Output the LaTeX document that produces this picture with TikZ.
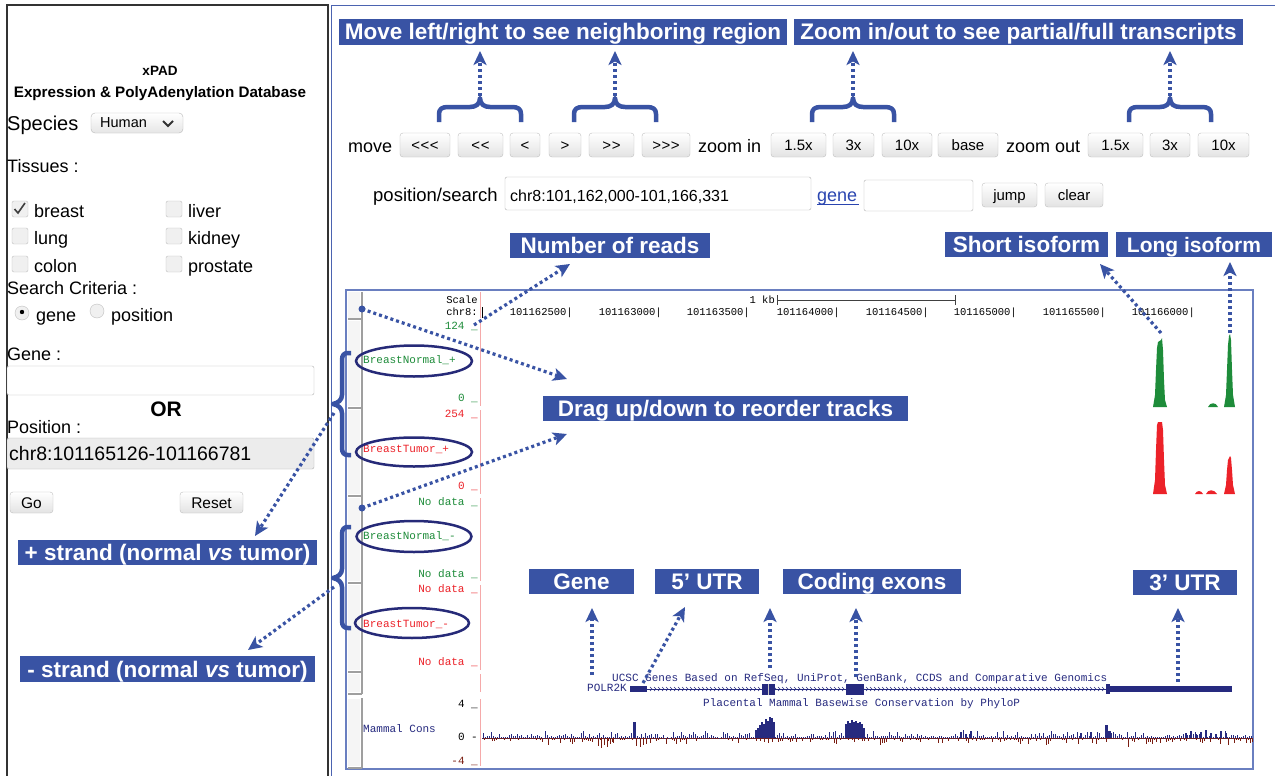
\documentclass[tikz,border=0pt]{standalone}
\usepackage{fontspec}
\setmainfont{Liberation Sans}
\newfontfamily\monof{Liberation Mono}
\usetikzlibrary{arrows.meta}
\newcommand{\fsz}[1]{\fontsize{#1}{#1}\selectfont}
\newcommand{\lt}{<\kern0.5pt}
\newcommand{\gt}{>\kern0.5pt}
\definecolor{lblue}{HTML}{3953A4}
\definecolor{pborder}{HTML}{4B63B0}
\definecolor{tborder}{HTML}{6A7FC0}
\definecolor{enavy}{HTML}{262A78}
\definecolor{gnavy}{HTML}{262A7F}
\definecolor{tgreen}{HTML}{1E8C3A}
\definecolor{tred}{HTML}{EC2229}
\definecolor{cbrown}{HTML}{7A1E12}
\definecolor{pinkl}{HTML}{F5A9A9}
\definecolor{linkb}{HTML}{2A45B0}
\begin{document}
\begin{tikzpicture}[x=1pt,y=-1pt,
  lbl/.style={fill=lblue,text=white,font=\bfseries\fsz{22.5},inner sep=0pt,minimum height=25pt,text height=16pt,text depth=0pt},
  btn/.style={draw=gray!50,rounded corners=3pt,top color=white,bottom color=gray!22,inner sep=0pt,minimum height=24pt,font=\fsz{15},text height=11pt,text depth=0pt},
  ui/.style={inner sep=0pt,anchor=base west,font=\fsz{18}},
  trk/.style={inner sep=0pt,font=\monof\fsz{11},text height=7pt,text depth=2pt},
  darr/.style={draw=lblue,line width=3.2pt,dash pattern=on 3pt off 3pt,-{Stealth[length=14pt,width=13pt,inset=3.5pt]}},
  brc/.style={draw=lblue,line width=4.5pt,line join=round},
  ell/.style={draw=enavy,line width=2.5pt},
  fieldbox/.style={draw=gray!60,rounded corners=2pt},
  cbox/.style={draw=gray!50,fill=gray!12,rounded corners=2pt}]
\useasboundingbox (0,0) rectangle (1275,776);
\fill[white] (0,0) rectangle (1275,776);

% ---------- left panel ----------
\draw[black!80,line width=1.5pt] (7,776) -- (7,5) -- (328,5) -- (328,776);
\node[inner sep=0pt,anchor=base,font=\bfseries\fsz{13.5}] (title) at (160,75) {xPAD};
\node[inner sep=0pt,anchor=base,font=\bfseries\fsz{15.2}] (subtitle) at (160,98) {Expression \& PolyAdenylation Database};
\node[ui,font=\fsz{20}] (species) at (7,130) {Species};
\draw[draw=gray!55,top color=white,bottom color=gray!20,rounded corners=4pt] (91,113) rectangle (183,133);
\node[ui,font=\fsz{14.5}] (human) at (100,128) {Human};
\draw[black!80,line width=1.8pt] (163,121) -- (168,126) -- (173,121);
\node[ui] (tissues) at (7,172) {Tissues :};
\draw[cbox] (12,201) rectangle (28,217);
\draw[black!75,line width=1.6pt] (14.5,209) -- (18,213) -- (25,203);
\draw[cbox] (12,228) rectangle (28,244);
\draw[cbox] (12,256) rectangle (28,272);
\draw[cbox] (166,201) rectangle (182,217);
\draw[cbox] (166,228) rectangle (182,244);
\draw[cbox] (166,256) rectangle (182,272);
\node[ui] (breast) at (34,217) {breast};
\node[ui] (lung) at (34,244) {lung};
\node[ui] (colon) at (34,272) {colon};
\node[ui] (liver) at (188,217) {liver};
\node[ui] (kidney) at (188,244) {kidney};
\node[ui] (prostate) at (188,272) {prostate};
\node[ui] (search) at (7,294) {Search Criteria :};
\draw[cbox] (22,313) circle (7);
\fill[black] (22,312) circle (2.2);
\draw[cbox] (97,311) circle (7);
\node[ui] (rgene) at (36,321) {gene};
\node[ui] (rpos) at (111,321) {position};
\node[ui] (genelab) at (7,360) {Gene :};
\draw[fieldbox,fill=white] (7,366) rectangle (314,395);
\node[inner sep=0pt,anchor=base,font=\bfseries\fsz{21}] (or) at (166,416) {OR};
\node[ui] (poslab) at (7,433) {Position :};
\draw[fieldbox,fill=gray!15] (7,438) rectangle (314,469);
\node[ui,font=\fsz{19.5}] (posval) at (9,460) {chr8:101165126-101166781};
\node[btn,minimum width=43pt,minimum height=21pt,font=\fsz{15.5}] (go) at (31.5,502.5) {Go};
\node[btn,minimum width=63pt,minimum height=21pt,font=\fsz{15.5}] (reset) at (211.5,502.5) {Reset};
\node[lbl,minimum width=299pt] (plus) at (167.5,552.5) {+ strand (normal \textit{vs} tumor)};
\node[lbl,minimum width=295pt,minimum height=26pt] (minus) at (167.5,669) {- strand (normal \textit{vs} tumor)};

% ---------- right panel ----------
\draw[pborder,line width=1.5pt] (331.5,776) -- (331.5,5.5) -- (1275,5.5);
\node[lbl,minimum width=448pt,minimum height=26pt] (movelbl) at (563,32) {Move left/right to see neighboring region};
\node[lbl,minimum width=449pt,minimum height=26pt] (zoomlbl) at (1018.5,32) {Zoom in/out to see partial/full transcripts};

\node[ui] (movetxt) at (348,152) {move};
\node[btn,minimum width=50pt] (b1) at (425,145) {\lt\lt<};
\node[btn,minimum width=45pt] (b2) at (480.5,145) {\lt<};
\node[btn,minimum width=30pt] (b3) at (525,145) {<};
\node[btn,minimum width=32pt] (b4) at (565,145) {>};
\node[btn,minimum width=45pt] (b5) at (611.5,145) {\gt>};
\node[btn,minimum width=48pt] (b6) at (666,145) {\gt\gt>};
\node[ui] (zin) at (698,152) {zoom in};
\node[btn,minimum width=55pt] (z1) at (798.5,145) {1.5x};
\node[btn,minimum width=41pt] (z2) at (853.5,145) {3x};
\node[btn,minimum width=50pt] (z3) at (907,145) {10x};
\node[btn,minimum width=60pt] (z4) at (968,145) {base};
\node[ui] (zout) at (1006,152) {zoom out};
\node[btn,minimum width=55pt] (o1) at (1115.5,145) {1.5x};
\node[btn,minimum width=40pt] (o2) at (1170,145) {3x};
\node[btn,minimum width=51pt] (o3) at (1223.5,145) {10x};

\node[ui,font=\fsz{18.5}] (posearch) at (373,201) {position/search};
\draw[fieldbox,fill=white] (505,177) rectangle (811,210);
\node[ui,font=\fsz{16}] (posfield) at (510,201) {chr8:101,162,000-101,166,331};
\node[ui,text=linkb] (genelink) at (817,201) {gene};
\draw[linkb,line width=1pt] (817,204) -- (859,204);
\draw[fieldbox,fill=white] (864,180) rectangle (973,211);
\node[btn,minimum width=55pt] (jump) at (1009.5,195) {jump};
\node[btn,minimum width=58pt] (clear) at (1074,195) {clear};

% top braces and arrows
\foreach \c/\n in {480/1,615/2,853/3,1170/4}{
  \draw[brc] ({\c-41},122) -- ({\c-41},114) .. controls ({\c-41},109) and ({\c-38},107) .. ({\c-32},107) -- ({\c-10},107) .. controls ({\c-4},107) and (\c,104) .. (\c,98) .. controls (\c,104) and ({\c+4},107) .. ({\c+10},107) -- ({\c+32},107) .. controls ({\c+38},107) and ({\c+41},109) .. ({\c+41},114) -- ({\c+41},122);
  \coordinate (bt\n) at (\c,96);
  \coordinate (lt\n) at (\c,51);
}
\draw[darr] (bt1) -- (lt1);
\draw[darr] (bt2) -- (lt2);
\draw[darr] (bt3) -- (lt3);
\draw[darr] (bt4) -- (lt4);

% labels middle
\node[lbl,minimum width=200pt] (nreads) at (610,245.5) {Number of reads};
\node[lbl,minimum width=163pt] (short) at (1026.5,244.5) {Short isoform};
\node[lbl,minimum width=156pt,font=\bfseries\fsz{21}] (long) at (1194,244.5) {Long isoform};

% ---------- track area ----------
\draw[tborder,line width=1.2pt] (346,290) rectangle (1253,769);
\foreach \a/\b in {292/318,321/406,410/494,498/581,585/670,674/692,699/766}{
  \fill[gray!8] (348,\a) rectangle (360,\b);
  \draw[pinkl,line width=1pt] (480,\a) -- (480,\b);
}
\draw[gray!75,line width=2pt] (362,292) -- (362,694);
\draw[gray!75,line width=2pt] (362,698) -- (362,768);
\foreach \yy in {319,408,496,583,672,694,768}{
  \draw[gray!75,line width=1.5pt] (348,\yy) -- (362,\yy);
}

% scale
\node[trk,anchor=east,font=\monof\fsz{10.5}] (scale) at (478,301) {Scale};
\node[trk,anchor=east,font=\monof\fsz{10.5}] (chr) at (478,313) {chr8:};
\draw[black,line width=0.8pt] (482,307) -- (482,318);
\node[trk,anchor=east,font=\monof\fsz{10.5}] (kb) at (775,301) {1 kb};
\draw[black!75,line width=1pt] (777,300) -- (955,300);
\draw[black!75,line width=1pt] (777,295) -- (777,305);
\draw[black!75,line width=1pt] (955,295) -- (955,305);
\foreach \bx/\lab in {570/101162500,659/101163000,747/101163500,837/101164000,926/101164500,1014/101165000,1103/101165500,1192/101166000}{
  \node[trk,anchor=east,font=\monof\fsz{10.5}] (p\lab) at ({\bx+3},313) {\lab|};
}

% track values
\node[trk,anchor=east,text=tgreen] (v124) at (478,327) {124 \_};
\node[trk,anchor=east,text=tgreen] (v0g) at (478,399) {0 \_};
\node[trk,anchor=east,text=tred] (v254) at (478,415) {254 \_};
\node[trk,anchor=east,text=tred] (v0r) at (478,487) {0 \_};
\node[trk,anchor=east,text=tgreen] (nd1) at (478,503) {No data \_};
\node[trk,anchor=east,text=tgreen] (nd2) at (478,575) {No data \_};
\node[trk,anchor=east,text=tred] (nd3) at (478,590) {No data \_};
\node[trk,anchor=east,text=tred] (nd4) at (478,663) {No data \_};
\node[trk,anchor=east] (c4) at (478,705) {4 \_};
\node[trk,anchor=east] (c0) at (478,738) {0 -};
\node[trk,anchor=east,text=cbrown] (cm4) at (478,762) {-4 \_};
\node[trk,anchor=west,text=gnavy] (mcons) at (363,730) {Mammal Cons};

% track names + ellipses
\node[trk,anchor=west,text=tgreen] (bnp) at (363,361) {BreastNormal\_+};
\node[trk,anchor=west,text=tred] (btp) at (363,450) {BreastTumor\_+};
\node[trk,anchor=west,text=tgreen] (bnm) at (363,537) {BreastNormal\_-};
\node[trk,anchor=west,text=tred] (btm) at (363,625) {BreastTumor\_-};
\draw[ell] (414,361) ellipse [x radius=58, y radius=15.5];
\draw[ell] (414,452) ellipse [x radius=58, y radius=14.5];
\draw[ell] (414,536.5) ellipse [x radius=57.5, y radius=15.5];
\draw[ell] (412,623) ellipse [x radius=57, y radius=15];

% peaks
\fill[tgreen] (1153,407) -- (1155,395) -- (1156,370) -- (1157,348) -- (1158,342) -- (1161,340) -- (1162,338) -- (1163,350) -- (1164,380) -- (1165,400) -- (1167,407) -- cycle;
\fill[tgreen] (1208,407) .. controls (1210,402) and (1216,402) .. (1218,407) -- cycle;
\fill[tgreen] (1224,407) -- (1226,395) -- (1227,370) -- (1228,345) -- (1229,336) -- (1230,334) -- (1231,340) -- (1232,370) -- (1233,395) -- (1235,407) -- cycle;
\fill[tred] (1153,494) -- (1155,480) -- (1156,450) -- (1157,425) -- (1158,422) -- (1162,422) -- (1163,430) -- (1164,460) -- (1165,485) -- (1167,494) -- cycle;
\fill[tred] (1195,494) .. controls (1197,490) and (1201,490) .. (1203,494) -- cycle;
\fill[tred] (1206,494) .. controls (1208,489) and (1214,489) .. (1217,494) -- cycle;
\fill[tred] (1224,494) -- (1226,485) -- (1227,470) -- (1228,460) -- (1230,456) -- (1231,458) -- (1232,470) -- (1233,485) -- (1235,494) -- cycle;

% gene track
\node[trk,anchor=west,text=gnavy] (ucsc) at (612,679) {UCSC Genes Based on RefSeq, UniProt, GenBank, CCDS and Comparative Genomics};
\node[trk,anchor=east,text=gnavy] (polr) at (627,689) {POLR2K};
\node[trk,anchor=west,text=gnavy] (plac) at (703,704) {Placental Mammal Basewise Conservation by PhyloP};
\draw[gnavy,line width=0.6pt] (647,689) -- (1108,689);
\foreach \x in {650,654,...,1104}{
  \draw[gnavy,line width=0.5pt] (\x,687) -- (\x+2,689) -- (\x,691);
}
\fill[gnavy] (630,686) rectangle (647,692);
\fill[gnavy] (762,684) rectangle (775,695);
\draw[gray!40,line width=0.6pt] (768.5,684) -- (768.5,695);
\fill[gnavy] (846,684) rectangle (864,695);
\fill[gnavy] (1108,686) rectangle (1232,692);
\fill[gnavy] (1106,684) rectangle (1110,694);

% conservation
\pgfmathsetseed{11}
\draw[cbrown!60!gnavy,line width=0.6pt] (482,738) -- (1252,738);
\foreach \x in {483,485,...,1251}{
  \pgfmathsetmacro{\hh}{rnd*rnd*8+0.5}
  \pgfmathsetmacro{\dd}{rnd*rnd*7}
  \fill[gnavy] (\x,738) rectangle ++(1,-\hh);
  \fill[cbrown] (\x+1,738) rectangle ++(1,\dd);
}
\foreach \x/\d in {598/8,601/10,604/7,607/9,610/6,613/5,636/8,640/9,643/7,646/6,650/5,880/7,1020/6,1128/9,1160/5}{
  \fill[cbrown] (\x,738) rectangle ++(1.4,\d);
}
\fill[gnavy] (633,738) rectangle (635.5,722);
\foreach \x/\t in {755/730,757/728,759/725,761/722,763/724,765/719,767/721,769/717,771/718,773/722}{
  \fill[gnavy] (\x,738) rectangle (\x+2,\t);
}
\foreach \x/\t in {845/724,847/721,849/723,851/720,853/722,855/721,857/723,859/722,861/724,863/728}{
  \fill[gnavy] (\x,738) rectangle (\x+2,\t);
}
\fill[gnavy] (1105,738) rectangle (1107.5,725);
\fill[gnavy] (1108,738) rectangle (1111,731);
\foreach \x/\t in {1185/733,1190/731,1195/734,1200/732,1205/730,1210/733,1215/734,1220/731,1225/733,960/732,965/734,970/731,1080/733,1090/732}{
  \fill[gnavy] (\x,738) rectangle (\x+2,\t);
}

\node[lbl,minimum width=105pt] (genel) at (581.5,581.5) {Gene};
\node[lbl,minimum width=104pt] (utr5) at (707,581.5) {5’ UTR};
\node[lbl,minimum width=178pt] (coding) at (872,581.5) {Coding exons};
\node[lbl,minimum width=104pt] (utr3) at (1185,582) {3’ UTR};
\node[lbl,minimum width=365pt] (drag) at (725.5,408.5) {Drag up/down to reorder tracks};

% left braces
\draw[brc] (351,353) -- (348,353) .. controls (344,353) and (342,355) .. (342,360) -- (342,395) .. controls (342,400) and (338,403) .. (333,404) .. controls (338,405) and (342,408) .. (342,413) -- (342,448) .. controls (342,453) and (344,455) .. (348,455) -- (351,455);
\draw[brc] (351,527) -- (348,527) .. controls (344,527) and (342,529) .. (342,534) -- (342,569) .. controls (342,574) and (338,577) .. (333,578) .. controls (338,579) and (342,582) .. (342,587) -- (342,621) .. controls (342,626) and (344,628) .. (348,628) -- (351,628);

% dots
\coordinate (d1) at (362,309);
\coordinate (d2) at (362,508);
\fill[lblue] (d1) circle (3.5);
\fill[lblue] (d2) circle (3.5);

% arrow end coordinates
\coordinate (dragA) at (567,379);
\coordinate (dragB) at (567,434);
\coordinate (nrS) at (474,325);
\coordinate (nrE) at (570,264);
\coordinate (shS) at (1161,333);
\coordinate (shE) at (1100,264);
\coordinate (lgS) at (1230,333);
\coordinate (lgE) at (1230,262);
\coordinate (plS) at (334,413);
\coordinate (plE) at (255,536);
\coordinate (miS) at (334,587);
\coordinate (miE) at (248,650);
\coordinate (geS) at (592,675);
\coordinate (geE) at (592,608);
\coordinate (u5S) at (643,683);
\coordinate (u5E) at (685,607);
\coordinate (exS) at (770,668);
\coordinate (exE) at (770,608);
\coordinate (coS) at (856,677);
\coordinate (coE) at (856,608);
\coordinate (u3S) at (1178,682);
\coordinate (u3E) at (1178,608);

\draw[darr] (d1) -- (dragA);
\draw[darr] (d2) -- (dragB);
\draw[darr] (nrS) -- (nrE);
\draw[darr] (shS) -- (shE);
\draw[darr] (lgS) -- (lgE);
\draw[darr] (plS) -- (plE);
\draw[darr] (miS) -- (miE);
\draw[darr] (geS) -- (geE);
\draw[darr] (u5S) -- (u5E);
\draw[darr] (exS) -- (exE);
\draw[darr] (coS) -- (coE);
\draw[darr] (u3S) -- (u3E);
\end{tikzpicture}
\end{document}
